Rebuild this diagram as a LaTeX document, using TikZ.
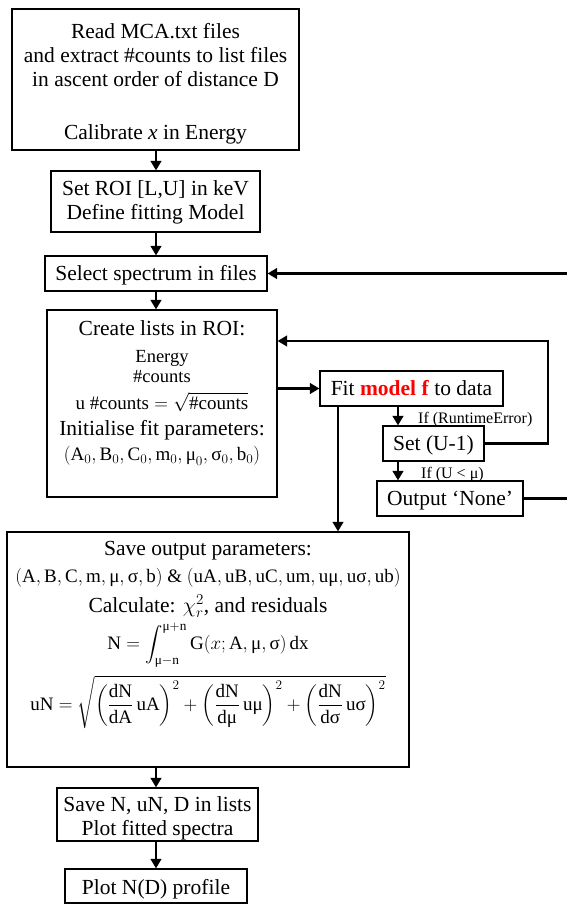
\RequirePackage{fix-cm}
\documentclass[tikz,border=0pt]{standalone}
\usepackage{amsmath}
\usepackage{fontspec}
\setmainfont{Liberation Serif}
\usetikzlibrary{arrows.meta}
\newcommand\gmu{\text{μ}}
\newcommand\gsig{\text{σ}}
\begin{document}
\begin{tikzpicture}[x=1pt,y=-1pt,
 boxn/.style={draw=black,line width=1.1pt,inner sep=0pt},
 big/.style={font=\fontsize{21.5}{24}\selectfont, inner sep=0pt, anchor=base},
 mid/.style={font=\fontsize{18.5}{21}\selectfont, inner sep=0pt, anchor=base},
 mth/.style={font=\fontsize{19}{22}\selectfont, inner sep=0pt, anchor=base},
 lbl/.style={font=\fontsize{16}{18}\selectfont, inner sep=0pt, anchor=base west},
 arr/.style={line width=2.8pt, -{Triangle[length=9.5pt,width=10.5pt]}},
 ]
\useasboundingbox (0,0) rectangle (566,904);
\fill[white] (0,0) rectangle (566,904);

% boxes
\node[boxn, minimum width=287pt, minimum height=141pt] (b1) at (155.5,79.5) {};
\node[boxn, minimum width=209pt, minimum height=61pt] (b2) at (155.5,201.5) {};
\node[boxn, minimum width=222pt, minimum height=35pt] (b3) at (156,273.5) {};
\node[boxn, minimum width=230pt, minimum height=187pt] (b4) at (162,403.5) {};
\node[boxn, minimum width=183pt, minimum height=35pt] (fit) at (411.5,388.5) {};
\node[boxn, minimum width=101pt, minimum height=35pt] (set) at (433.5,443.5) {};
\node[boxn, minimum width=146pt, minimum height=35pt] (out) at (450,498.5) {};
\node[boxn, minimum width=402pt, minimum height=235pt] (save) at (208,649.5) {};
\node[boxn, minimum width=201pt, minimum height=53pt] (saven) at (157.5,814.5) {};
\node[boxn, minimum width=182pt, minimum height=34pt] (plot) at (156,886) {};

% texts
\node[big] (t1a) at (155.5,39) {Read MCA.txt files};
\node[big] (t1b) at (155.5,63) {and extract \#counts to list files};
\node[big] (t1c) at (155.5,87) {in ascent order of distance D};
\node[big] (t1d) at (155.5,140) {Calibrate \textit{x} in Energy};

\node[big] (t2a) at (155.5,195) {Set ROI [L,U] in keV};
\node[big] (t2b) at (155.5,219) {Define fitting Model};

\node[big] (t3) at (156,280) {Select spectrum in files};

\node[big] (t4a) at (162,335) {Create lists in ROI:};
\node[mid] (t4b) at (162,362) {Energy};
\node[mid] (t4c) at (162,382) {\#counts};
\node[mth] (t4d) at (162,409) {$\text{u \#counts} = \sqrt{\text{\#counts}}$};
\node[big] (t4e) at (162,435) {Initialise fit parameters:};
\node[mth] (t4f) at (162,460.5) {$(\mathrm{A}_0, \mathrm{B}_0, \mathrm{C}_0, \mathrm{m}_0, \gmu_0, \gsig_0, \mathrm{b}_0)$};

\node[big] (tfit) at (411.5,395.5) {Fit \textcolor{red}{\textbf{model f}} to data};
\node[big] (tset) at (433.5,450.5) {Set (U-1)};
\node[big] (tout) at (450,505.5) {Output ‘None’};
\node[lbl] (l1) at (418,423.5) {If (RuntimeError)};
\node[lbl] (l2) at (421,478.5) {If (U < μ)};

\node[big] (t5a) at (208,555) {Save output parameters:};
\node[mth] (t5b) at (208,582.5) {$(\mathrm{A}, \mathrm{B}, \mathrm{C}, \mathrm{m}, \gmu, \gsig, \mathrm{b})$ \& $(\mathrm{uA}, \mathrm{uB}, \mathrm{uC}, \mathrm{um}, \mathrm{u}\gmu, \mathrm{u}\gsig, \mathrm{ub})$};
\node[big] (t5c) at (208,612) {Calculate: $\chi_r^2$, and residuals};
\node[font=\fontsize{19}{22}\selectfont, inner sep=0pt] (t5d) at (208,645) {$\displaystyle \mathrm{N} = \int_{\gmu-\mathrm{n}}^{\gmu+\mathrm{n}} \mathrm{G}(x; \mathrm{A}, \gmu, \gsig)\,\mathrm{dx}$};
\node[font=\fontsize{19}{22}\selectfont, inner sep=0pt] (t5e) at (208,702) {$\displaystyle \mathrm{uN} = \sqrt{\left(\frac{\mathrm{dN}}{\mathrm{dA}}\,\mathrm{uA}\right)^{2} + \left(\frac{\mathrm{dN}}{\mathrm{d}\gmu}\,\mathrm{u}\gmu\right)^{2} + \left(\frac{\mathrm{dN}}{\mathrm{d}\gsig}\,\mathrm{u}\gsig\right)^{2}}$};

\node[big] (t6a) at (157.5,811) {Save N, uN, D in lists};
\node[big] (t6b) at (157.5,835) {Plot fitted spectra};
\node[big] (t7) at (156,894) {Plot N(D) profile};

% connectors
\coordinate (mx) at (156,0);
\draw[arr] (b1.south -| mx) -- (b2.north -| mx);
\draw[arr] (b2.south -| mx) -- (b3.north -| mx);
\draw[arr] (b3.south -| mx) -- (b4.north -| mx);
\draw[arr] (save.south -| mx) -- (saven.north -| mx);
\draw[arr] (saven.south -| mx) -- (plot.north -| mx);
\draw[arr] (b4.east |- fit.west) -- (fit.west);
\coordinate (sx) at (398,0);
\draw[arr] (fit.south -| sx) -- (set.north -| sx);
\draw[arr] (set.south -| sx) -- (out.north -| sx);
\coordinate (fx) at (338,0);
\draw[arr] (fit.south -| fx) -- (save.north -| fx);
\coordinate (lpx) at (548,341);
\draw[arr] (set.east) -| (lpx) -- (b4.east |- lpx);
\coordinate (rx) at (571,400);
\draw[arr] (out.east) -| (rx) |- (b3.east);
\end{tikzpicture}
\end{document}
